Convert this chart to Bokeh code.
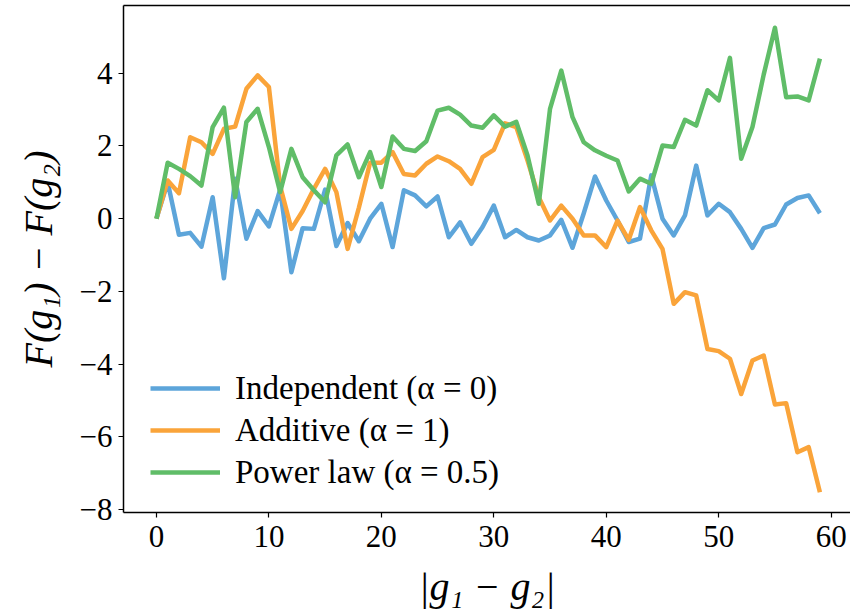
from bokeh.plotting import figure
from bokeh.models import Range1d, FixedTicker, LinearAxis, Legend, LegendItem
from bokeh.embed import file_html
from bokeh.resources import INLINE

x = list(range(60))

independent = [0.0, 1.0, -0.44, -0.39, -0.77, 0.59, -1.64, 1.1, -0.55, 0.21,
               -0.21, 0.8, -1.47, -0.26, -0.28, 0.8, -0.75, -0.12, -0.62, 0.0,
               0.41, -0.78, 0.78, 0.64, 0.34, 0.61, -0.51, -0.1, -0.69, -0.23,
               0.36, -0.51, -0.31, -0.51, -0.6, -0.46, -0.03, -0.8, 0.15, 1.16,
               0.5, -0.05, -0.64, -0.55, 1.19, 0.0, -0.46, 0.09, 1.46, 0.09,
               0.41, 0.18, -0.28, -0.8, -0.26, -0.16, 0.39, 0.57, 0.64, 0.15]

additive = [0.0, 1.05, 0.7, 2.24, 2.1, 1.78, 2.47, 2.53, 3.57, 3.94,
            3.62, 0.9, -0.28, 0.21, 0.82, 1.37, 0.73, -0.83, 0.3, 1.54,
            1.54, 1.83, 1.23, 1.19, 1.51, 1.71, 1.58, 1.37, 0.96, 1.69,
            1.89, 2.62, 2.52, 1.6, 0.59, -0.05, 0.36, 0.0, -0.46, -0.46,
            -0.78, -0.05, -0.58, 0.32, -0.32, -0.83, -2.34, -2.02, -2.11, -3.58,
            -3.64, -3.85, -4.82, -3.9, -3.76, -5.11, -5.07, -6.42, -6.28, -7.52]

power_law = [0.0, 1.54, 1.37, 1.17, 0.91, 2.52, 3.05, 0.59, 2.66, 3.02,
             1.97, 0.73, 1.92, 1.14, 0.78, 0.45, 1.74, 2.04, 1.14, 1.83,
             0.87, 2.26, 1.92, 1.86, 2.13, 2.97, 3.05, 2.86, 2.56, 2.5,
             2.84, 2.53, 2.66, 1.74, 0.41, 3.02, 4.07, 2.79, 2.1, 1.88,
             1.73, 1.6, 0.75, 1.1, 0.96, 2.01, 1.97, 2.72, 2.56, 3.53,
             3.25, 4.42, 1.65, 2.52, 3.96, 5.25, 3.34, 3.36, 3.25, 4.4]

labels = ["Independent (α = 0)", "Additive (α = 1)", "Power law (α = 0.5)"]
colors = ["#5DA5DA", "#FAA43A", "#60BD68"]

x_ticks = [0, 10, 20, 30, 40, 50, 60]
y_ticks = [-8, -6, -4, -2, 0, 2, 4]

FONT = "Liberation Serif"

p = figure(width=850, height=614, output_backend="svg", toolbar_location=None,
           x_range=Range1d(-2.93, 61.72), y_range=Range1d(-8.076, 5.86),
           x_axis_location="below", y_axis_location="left")
p.min_border_left = 123
p.min_border_right = 0
p.min_border_top = 5
p.min_border_bottom = 102
p.outline_line_color = None
p.xgrid.visible = False
p.ygrid.visible = False
p.background_fill_color = "white"
p.border_fill_color = "white"

renderers = []
for ys, c in zip([independent, additive, power_law], colors):
    r = p.line(x, ys, line_color=c, line_width=4.5, line_join="round")
    renderers.append(r)

for ax in [p.xaxis[0], p.yaxis[0]]:
    ax.axis_line_color = "black"
    ax.axis_line_width = 1.5
    ax.major_tick_line_color = "black"
    ax.major_tick_line_width = 1.2
    ax.major_tick_out = 5
    ax.major_tick_in = 0
    ax.minor_tick_line_color = None
    ax.major_label_text_font = FONT
    ax.major_label_text_font_size = "31px"
    ax.major_label_text_color = "black"
    ax.axis_label_text_font = FONT
    ax.axis_label_text_font_style = "italic"
    ax.axis_label_text_font_size = "40px"
    ax.axis_label_text_color = "black"

p.xaxis[0].ticker = FixedTicker(ticks=x_ticks)
p.yaxis[0].ticker = FixedTicker(ticks=y_ticks)
p.yaxis[0].major_label_overrides = {t: (f"\u2212{abs(t)}" if t < 0 else str(t)) for t in y_ticks}
p.xaxis[0].major_label_standoff = 8
p.yaxis[0].major_label_standoff = 6
p.xaxis[0].axis_label = "|g\u2081 \u2212 g\u2082|"
p.yaxis[0].axis_label = "F(g\u2081) \u2212 F(g\u2082)"
p.xaxis[0].axis_label_standoff = 14
p.yaxis[0].axis_label_standoff = 16

top = LinearAxis(ticker=FixedTicker(ticks=[]))
top.axis_line_color = "black"
top.axis_line_width = 1.5
top.major_tick_line_color = None
top.minor_tick_line_color = None
top.major_tick_out = 0
top.major_tick_in = 0
top.major_label_text_font_size = "0px"
top.major_label_standoff = 0
p.add_layout(top, "above")

legend = Legend(items=[LegendItem(label=l, renderers=[r]) for l, r in zip(labels, renderers)],
                location=(27, 20))
legend.border_line_color = None
legend.background_fill_alpha = 0
legend.padding = 0
legend.margin = 0
legend.spacing = 2
legend.glyph_width = 70
legend.glyph_height = 40
legend.label_height = 40
legend.label_standoff = 15
legend.label_text_font = FONT
legend.label_text_font_size = "33px"
legend.label_text_color = "black"
p.add_layout(legend, "center")

open("out.html", "w").write(file_html(p, INLINE))
